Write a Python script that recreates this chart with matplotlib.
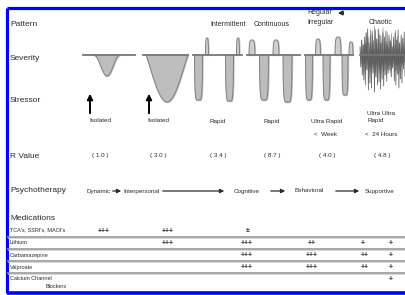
import numpy as np
import matplotlib
matplotlib.use('Agg')
import matplotlib.pyplot as plt

plt.rcParams['font.family'] = ['Liberation Sans', 'DejaVu Sans']

# 行标题
row_labels = ['Pattern', 'Severity', 'Stressor', 'R Value', 'Psychotherapy', 'Medications']
row_y = [24, 58, 101, 156, 191, 219]

# 各列（发作模式）
col_x = [100, 158, 218, 272, 327, 382]
stressors = ['Isolated', 'Isolated', 'Rapid', 'Rapid', 'Ultra Rapid', 'Ultra Ultra\nRapid']
stressor_sub = ['', '', '', '', '<  Week', '<  24 Hours']
r_values = ['( 1.0 )', '( 3.0 )', '( 3.4 )', '( 8.7 )', '( 4.0 )', '( 4.8 )']

# 心理治疗
psycho = ['Dynamic', 'Interpersonal', 'Cognitive', 'Behavioral', 'Supportive']
psycho_x = [99, 142, 247, 309, 380]
psycho_arrows = [(110, 124), (160, 227), (268, 288), (333, 362)]

# 药物
med_names = ["TCA's, SSRI's, MAOI's", 'Lithium', 'Carbamazepine', 'Valproate', 'Calcium Channel']
med_y = [230, 242, 255, 267, 279]
med_marks = [
    [(104, '+++'), (168, '+++'), (248, '±')],
    [(168, '+++'), (247, '+++'), (312, '++'), (363, '+'), (391, '+')],
    [(247, '+++'), (312, '+++'), (365, '++'), (391, '+')],
    [(247, '+++'), (312, '+++'), (365, '++'), (391, '+')],
    [(391, '+')],
]
med_lines = [237, 249, 261, 273]

# 严重程度波形：基线段、低谷(中心, 半宽, 底部y, 形状)、高峰(中心, 半宽, 顶部y)
baseline_y = 55
baselines = [(83, 135), (143, 188), (193, 242), (247, 300), (305, 353), (360, 405)]
troughs = [(107, 13, 76, 'bell'), (167, 21, 102, 'wide'),
           (198.5, 4, 100, 'u'), (229.5, 4, 101, 'u'),
           (264, 4.5, 100, 'u'), (287.5, 4.5, 102, 'u'),
           (309, 3.5, 100, 'u'), (326.5, 3.5, 100, 'u'), (345, 3, 95, 'u')]
peaks = [(207, 1.5, 38), (238, 1.5, 38),
         (252, 3, 40), (276, 3, 40),
         (318, 2.5, 39), (338, 3, 37), (351, 2, 42)]
chaos = [-8, 12, -15, 20, -10, 25, -18, 30, -22, 15, -26, 35, -12, 28, -20, 33,
         -24, 18, -14, 37, -25, 22, -16, 30, -26, 27, -20, 34, -12, 24, -22, 31,
         -18, 20, -24, 26, -10, 18, -20, 15, -14, 22, -8, 12, -18, 26, -22, 30,
         -15, 19, -25, 33, -11, 24, -20, 28, -17, 14, -23, 21]
chaos2 = [-12, 18, -20, 14, -24, 28, -9, 22, -16, 32, -21, 26, -13, 36, -26, 20,
          -18, 30, -23, 24, -10, 34, -19, 17, -25, 29, -14, 21, -22, 27, -16, 19,
          -20, 31, -12, 23, -24, 16, -15, 20, -11, 14]
stressor_arrows_x = [90, 149]

txt = '#2a2a2a'
fig = plt.figure(figsize=(4.05, 2.95), dpi=100)
ax = fig.add_axes([0, 0, 1, 1])
ax.set_xlim(0, 405)
ax.set_ylim(295, 0)
ax.axis('off')

# 蓝色边框
blue = '#0000ff'
ax.plot([7, 7], [7.5, 293], color=blue, lw=2.3, solid_capstyle='butt')
ax.plot([7, 405], [7.5, 7.5], color=blue, lw=2.3, solid_capstyle='butt')
ax.plot([7, 405], [293, 293], color=blue, lw=2.6, solid_capstyle='butt')

for lab, y in zip(row_labels, row_y):
    ax.text(10, y, lab, fontsize=6, color=txt, va='center', ha='left')

# 模式标题
ax.text(228, 24, 'Intermittent', fontsize=5, color=txt, ha='center', va='center')
ax.text(272, 24, 'Continuous', fontsize=5, color=txt, ha='center', va='center')
ax.text(307, 13, 'Regular', fontsize=5, color=txt, ha='left', va='center')
ax.text(307, 23, 'Irregular', fontsize=5, color=txt, ha='left', va='center')
ax.annotate('', xy=(335, 13), xytext=(346, 13),
            arrowprops=dict(arrowstyle='-|>', color=txt, lw=1.2, mutation_scale=6))
ax.text(381, 22, 'Chaotic', fontsize=5, color=txt, ha='center', va='center')

# 波形
for x0, x1 in baselines:
    ax.plot([x0, x1], [baseline_y, baseline_y], color='#777777', lw=1.3, zorder=3)
for cx, hw, bottom, shape in troughs:
    u = np.linspace(-1, 1, 60)
    if shape == 'bell':
        prof = 0.5 * (1 + np.cos(np.pi * u))
    elif shape == 'wide':
        prof = (0.5 * (1 + np.cos(np.pi * u))) ** 0.55
    else:
        prof = np.sqrt(np.clip(1 - np.abs(u) ** 6, 0, 1))
    xs = cx + hw * u
    ys = baseline_y + (bottom - baseline_y) * prof
    ax.fill_between(xs, baseline_y, ys, color='#bdbdbd', zorder=2)
    ax.plot(xs, ys, color='#808080', lw=0.7, zorder=2)
for cx, hw, top in peaks:
    u = np.linspace(-1, 1, 40)
    prof = np.sqrt(np.clip(1 - np.abs(u) ** 4, 0, 1))
    xs = cx + hw * u
    ys = baseline_y - (baseline_y - top) * prof
    ax.fill_between(xs, baseline_y, ys, color='#cfcfcf', zorder=2)
    ax.plot(xs, ys, color='#808080', lw=0.7, zorder=2)
cx = np.linspace(360, 405, len(chaos))
ax.plot(cx, baseline_y + np.array(chaos), color='#444444', lw=0.6, alpha=0.8, zorder=2)
cx2 = np.linspace(361, 404, len(chaos2))
ax.plot(cx2, baseline_y - np.array(chaos2) * 0.8, color='#666666', lw=0.5, alpha=0.7, zorder=2)
ax.plot(cx2 + 0.6, baseline_y + np.array(chaos2) * 0.5, color='#555555', lw=0.5, alpha=0.7, zorder=2)

# 应激箭头
for x in stressor_arrows_x:
    ax.annotate('', xy=(x, 91), xytext=(x, 116),
                arrowprops=dict(arrowstyle='-|>', color='black', lw=1.4, mutation_scale=8))

for x, s in zip(col_x, stressors):
    if '\n' in s:
        ax.text(x - 15, 117, s, fontsize=4.5, color=txt, ha='left', va='center', linespacing=1.6)
    else:
        ax.text(x, 121, s, fontsize=4.5, color=txt, ha='center', va='center')
for x, s in zip(col_x, stressor_sub):
    if s:
        ax.text(x - 1, 134, s, fontsize=4.5, color=txt, ha='center', va='center')

for x, s in zip(col_x, r_values):
    ax.text(x, 156, s, fontsize=4.5, color=txt, ha='center', va='center')

for x, s in zip(psycho_x, psycho):
    ax.text(x, 191, s, fontsize=4.5, color=txt, ha='center', va='center')
for x0, x1 in psycho_arrows:
    ax.annotate('', xy=(x1, 191), xytext=(x0, 191),
                arrowprops=dict(arrowstyle='-|>', color=txt, lw=0.9, mutation_scale=6))

for name, y, marks in zip(med_names, med_y, med_marks):
    ax.text(10, y, name, fontsize=4, color=txt, ha='left', va='center')
    for x, m in marks:
        ax.text(x, y + 1, m, fontsize=5, color=txt, ha='center', va='center', fontweight='bold')
ax.text(45, 287, 'Blockers', fontsize=4, color=txt, ha='left', va='center')
for y in med_lines:
    ax.plot([8, 405], [y, y], color='#9a9a9a', lw=1.2)
    ax.plot([8, 405], [y + 1.3, y + 1.3], color='#d0d0d0', lw=0.6)

fig.savefig('out.png', dpi=100)
